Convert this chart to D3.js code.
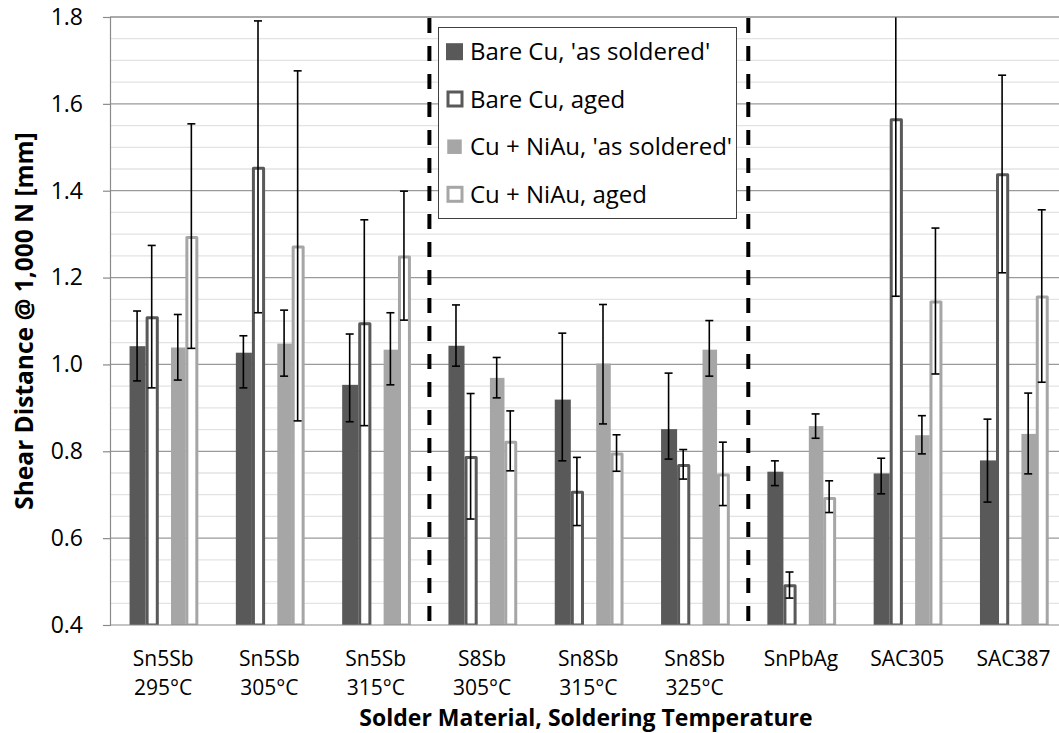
<!DOCTYPE html>
<html>
<head>
<meta charset="utf-8">
<script src="https://cdn.jsdelivr.net/npm/d3@7"></script>
<style>
    html, body { margin: 0; padding: 0; background: #fff; }
    svg { display: block; font-family: "Open Sans", sans-serif; }
</style>
</head>
<body>
<div id="chart"></div>
<script>
// Categorie (materiale + temperatura di saldatura)
const categories = [
    ["Sn5Sb", "295°C"], ["Sn5Sb", "305°C"], ["Sn5Sb", "315°C"],
    ["S8Sb", "305°C"], ["Sn8Sb", "315°C"], ["Sn8Sb", "325°C"],
    ["SnPbAg"], ["SAC305"], ["SAC387"]
];

// Bare Cu, 'as soldered'
const bareSoldered   = [1.042, 1.027, 0.953, 1.043, 0.919, 0.851, 0.753, 0.749, 0.779];
const bareSolderedHi = [1.123, 1.066, 1.070, 1.137, 1.072, 0.980, 0.778, 0.784, 0.874];
const bareSolderedLo = [0.962, 0.946, 0.868, 0.996, 0.778, 0.782, 0.721, 0.702, 0.683];

// Bare Cu, aged
const bareAged   = [1.111, 1.455, 1.097, 0.789, 0.709, 0.771, 0.494, 1.567, 1.440];
const bareAgedHi = [1.274, 1.791, 1.333, 0.933, 0.786, 0.804, 0.522, 1.977, 1.666];
const bareAgedLo = [0.946, 1.119, 0.859, 0.644, 0.629, 0.736, 0.462, 1.157, 1.211];

// Cu + NiAu, 'as soldered'
const niauSoldered   = [1.039, 1.048, 1.034, 0.969, 1.002, 1.034, 0.858, 0.837, 0.840];
const niauSolderedHi = [1.115, 1.125, 1.119, 1.016, 1.138, 1.101, 0.886, 0.882, 0.934];
const niauSolderedLo = [0.964, 0.973, 0.953, 0.923, 0.863, 0.973, 0.830, 0.794, 0.748];

// Cu + NiAu, aged
const niauAged   = [1.296, 1.274, 1.251, 0.824, 0.797, 0.749, 0.695, 1.147, 1.159];
const niauAgedHi = [1.554, 1.676, 1.399, 0.893, 0.838, 0.821, 0.732, 1.314, 1.356];
const niauAgedLo = [1.037, 0.870, 1.102, 0.755, 0.754, 0.675, 0.659, 0.978, 0.959];

const seriesNames = ["Bare Cu, 'as soldered'", "Bare Cu, aged", "Cu + NiAu, 'as soldered'", "Cu + NiAu, aged"];
const yTicks = [0.4, 0.6, 0.8, 1.0, 1.2, 1.4, 1.6, 1.8];
const separatorsBefore = [3, 6]; // linee tratteggiate prima di queste categorie

const yTitle = "Shear Distance @ 1,000 N [mm]";
const xTitle = "Solder Material, Soldering Temperature";

// --- layout ---
const WIDTH = 1059, HEIGHT = 733;
const M = { left: 110, top: 17, bottom: 625 };
const BAND = 106.3;

// posizione di ogni serie dentro la categoria (frazioni della banda)
const style = [
    { x0: 0.184, w: 0.151, fill: "#595959", stroke: null },
    { x0: 0.335, w: 0.124, fill: "#fff", stroke: "#595959" },
    { x0: 0.574, w: 0.137, fill: "#a6a6a6", stroke: null },
    { x0: 0.709, w: 0.122, fill: "#fff", stroke: "#a6a6a6" }
];
const OUTLINE = 3;

const series = [
    { values: bareSoldered, hi: bareSolderedHi, lo: bareSolderedLo },
    { values: bareAged, hi: bareAgedHi, lo: bareAgedLo },
    { values: niauSoldered, hi: niauSolderedHi, lo: niauSolderedLo },
    { values: niauAged, hi: niauAgedHi, lo: niauAgedLo }
];

const catKeys = categories.map(c => c.join(" "));

const x = d3.scaleBand()
    .domain(catKeys)
    .range([M.left, M.left + BAND * catKeys.length])
    .paddingInner(0).paddingOuter(0);

const y = d3.scaleLinear().domain([0.4, 1.8]).range([M.bottom, M.top]);

const svg = d3.select("#chart").append("svg")
    .attr("width", WIDTH).attr("height", HEIGHT)
    .attr("viewBox", `0 0 ${WIDTH} ${HEIGHT}`);

svg.append("defs").append("clipPath").attr("id", "plot-clip")
    .append("rect")
    .attr("x", M.left).attr("y", M.top)
    .attr("width", WIDTH - M.left).attr("height", M.bottom - M.top);

// griglia minore (ogni 0.05) e maggiore (ogni 0.2)
const minor = d3.range(0.45, 1.8, 0.05).filter(v => Math.abs(v * 5 - Math.round(v * 5)) > 1e-6);
svg.append("g").selectAll("line").data(minor).join("line")
    .attr("x1", M.left).attr("x2", WIDTH)
    .attr("y1", d => y(d)).attr("y2", d => y(d))
    .attr("stroke", "#e3e3e3").attr("stroke-width", 1.3);

svg.append("g").selectAll("line").data(yTicks.slice(1)).join("line")
    .attr("x1", M.left).attr("x2", WIDTH)
    .attr("y1", d => y(d)).attr("y2", d => y(d))
    .attr("stroke", "#9a9a9a").attr("stroke-width", 1.2);

// barre
const bars = svg.append("g").attr("clip-path", "url(#plot-clip)");
series.forEach((s, i) => {
    const st = style[i];
    const bw = x.bandwidth();
    const g = bars.append("g");
    if (!st.stroke) {
        g.selectAll("rect").data(s.values).join("rect")
            .attr("x", (d, j) => x(catKeys[j]) + st.x0 * bw)
            .attr("width", st.w * bw)
            .attr("y", d => y(d))
            .attr("height", d => y(0.4) - y(d))
            .attr("fill", st.fill);
    } else {
        g.selectAll("rect").data(s.values).join("rect")
            .attr("x", (d, j) => x(catKeys[j]) + st.x0 * bw + OUTLINE / 2)
            .attr("width", st.w * bw - OUTLINE)
            .attr("y", d => y(d) + OUTLINE / 2)
            .attr("height", d => y(0.4) - y(d) - OUTLINE / 2)
            .attr("fill", st.fill)
            .attr("stroke", st.stroke)
            .attr("stroke-width", OUTLINE)
            .attr("stroke-linejoin", "round");
    }
});

// barre d'errore
const err = svg.append("g").attr("clip-path", "url(#plot-clip)")
    .attr("stroke", "#000").attr("stroke-width", 1.6);
series.forEach((s, i) => {
    const st = style[i];
    const bw = x.bandwidth();
    s.values.forEach((v, j) => {
        const cx = x(catKeys[j]) + (st.x0 + st.w / 2) * bw - 0.5;
        err.append("line").attr("x1", cx).attr("x2", cx)
            .attr("y1", y(s.hi[j])).attr("y2", y(s.lo[j]));
        [s.hi[j], s.lo[j]].forEach(e => {
            err.append("line").attr("x1", cx - 4).attr("x2", cx + 4)
                .attr("y1", y(e)).attr("y2", y(e));
        });
    });
});

// separatori tratteggiati
svg.append("g").selectAll("line").data(separatorsBefore).join("line")
    .attr("x1", d => x(catKeys[d]) + 0.5).attr("x2", d => x(catKeys[d]) + 0.5)
    .attr("y1", M.top + 1).attr("y2", M.bottom)
    .attr("stroke", "#000").attr("stroke-width", 4)
    .attr("stroke-dasharray", "15,13");

// assi
svg.append("line")
    .attr("x1", M.left).attr("x2", WIDTH).attr("y1", M.top).attr("y2", M.top)
    .attr("stroke", "#8a8a8a").attr("stroke-width", 1.2);

const yAxis = svg.append("g")
    .attr("transform", `translate(${M.left},0)`)
    .call(d3.axisLeft(y).tickValues(yTicks).tickFormat(d3.format(".1f")).tickSize(7).tickPadding(20));
yAxis.select(".domain").attr("stroke", "#8a8a8a").attr("stroke-width", 1.2);
yAxis.selectAll(".tick line").attr("stroke", "#8a8a8a").attr("stroke-width", 1.2);
yAxis.selectAll(".tick text")
    .attr("fill", "#000").style("font-size", "23px").style("font-family", "Open Sans");

svg.append("line")
    .attr("x1", M.left).attr("x2", WIDTH).attr("y1", M.bottom).attr("y2", M.bottom)
    .attr("stroke", "#8a8a8a").attr("stroke-width", 1.2);

// etichette categorie
const labels = svg.append("g").style("font-size", "21px").attr("fill", "#000")
    .attr("text-anchor", "middle");
categories.forEach((c, j) => {
    const t = labels.append("text")
        .attr("x", x(catKeys[j]) + x.bandwidth() / 2)
        .attr("y", 665.5);
    c.forEach((line, k) => {
        t.append("tspan")
            .attr("x", x(catKeys[j]) + x.bandwidth() / 2)
            .attr("dy", k === 0 ? 0 : 29)
            .text(line);
    });
});

// titoli assi
svg.append("text")
    .attr("transform", `translate(33,321) rotate(-90)`)
    .attr("text-anchor", "middle")
    .style("font-size", "24.5px").style("font-weight", "bold")
    .text(yTitle);

svg.append("text")
    .attr("x", 586).attr("y", 726)
    .attr("text-anchor", "middle")
    .style("font-size", "23px").style("font-weight", "bold")
    .text(xTitle);

// legenda
const legend = svg.append("g");
legend.append("rect")
    .attr("x", 438.5).attr("y", 27.5).attr("width", 298).attr("height", 191)
    .attr("fill", "#fff").attr("stroke", "#404040").attr("stroke-width", 1);

const rowY = [51.7, 99, 146.7, 194.3];
seriesNames.forEach((name, i) => {
    const st = style[i];
    const item = legend.append("g");
    if (!st.stroke) {
        const s = i === 0 ? 17 : 14.5;
        item.append("rect")
            .attr("x", 454.5 - s / 2).attr("y", rowY[i] - s / 2)
            .attr("width", s).attr("height", s)
            .attr("fill", st.fill);
    } else {
        item.append("rect")
            .attr("x", 448).attr("y", rowY[i] - 7)
            .attr("width", 14).attr("height", 14)
            .attr("fill", "#fff").attr("stroke", st.stroke).attr("stroke-width", 3);
    }
    item.append("text")
        .attr("x", 470).attr("y", rowY[i])
        .attr("dy", "0.36em")
        .style("font-size", "24px")
        .text(name);
});
</script>
</body>
</html>
